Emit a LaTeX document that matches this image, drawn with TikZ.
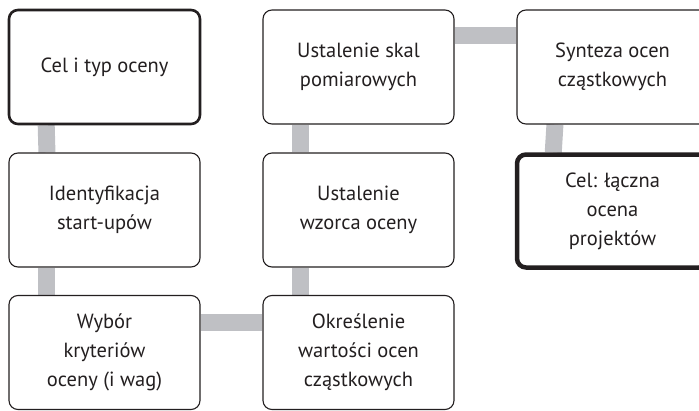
\documentclass[tikz,border=0pt]{standalone}
\usepackage{fontspec}
\setmainfont{PT Sans}
\usetikzlibrary{backgrounds}
\definecolor{ink}{RGB}{35,31,32}
\definecolor{linkgray}{RGB}{191,192,196}
\begin{document}
\begin{tikzpicture}[x=1pt,y=-1pt,
  stepbox/.style={draw=ink, line width=1.1pt, fill=white, rounded corners=9pt,
    minimum width=191pt, minimum height=114pt, inner sep=0pt,
    align=center, text=ink, font=\fontsize{20.5}{29}\selectfont},
  goalbox/.style={stepbox, line width=2.6pt},
  finalbox/.style={stepbox, line width=4.5pt, minimum height=113pt},
  link/.style={draw=linkgray, line width=17pt}]
\useasboundingbox (0,0) rectangle (699,410);

% first column
\node[goalbox] (cel)   at (104.5,67)    {Cel i typ oceny};
\node[stepbox] (ident) at (104.5,210)   {Identyfikacja\\start-upów};
\node[stepbox] (wybor) at (104.5,352.5) {Wybór\\kryteriów\\oceny (i wag)};

% second column
\node[stepbox] (skal)   at (358.5,67)    {Ustalenie skal\\pomiarowych};
\node[stepbox] (wzorzec) at (358.5,210)  {Ustalenie\\wzorca oceny};
\node[stepbox] (okresl) at (358.5,352.5) {Określenie\\wartości ocen\\cząstkowych};

% third column
\node[stepbox]  (synteza) at (612.5,67)  {Synteza ocen\\cząstkowych};
\node[finalbox] (laczna)  at (612.5,211) {Cel: łączna\\ocena\\projektów};

% connecting bars behind the boxes
\begin{scope}[on background layer]
  \draw[link] ([xshift=38.5pt]cel.south west)   -- ([xshift=38.5pt]ident.north west);
  \draw[link] ([xshift=38.5pt]ident.south west) -- ([xshift=38.5pt]wybor.north west);
  \draw[link] ([yshift=-27.5pt]wybor.north east) -- ([yshift=-27.5pt]okresl.north west);
  \draw[link] ([xshift=38.5pt]okresl.north west) -- ([xshift=38.5pt]wzorzec.south west);
  \draw[link] ([xshift=38.5pt]wzorzec.north west) -- ([xshift=38.5pt]skal.south west);
  \draw[link] ([yshift=-26.5pt]skal.north east) -- ([yshift=-26.5pt]synteza.north west);
  \draw[link] ([xshift=38.5pt]synteza.south west) -- ([xshift=38.5pt]laczna.north west);
\end{scope}
\end{tikzpicture}
\end{document}
